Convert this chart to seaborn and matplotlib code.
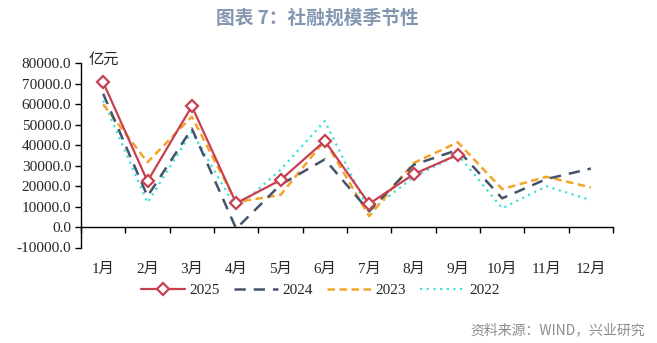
import matplotlib
matplotlib.use("Agg")
import matplotlib.pyplot as plt
import seaborn as sns
import numpy as np
import pandas as pd
from matplotlib.ticker import FixedLocator, FuncFormatter

months = ["1月", "2月", "3月", "4月", "5月", "6月", "7月", "8月", "9月", "10月", "11月", "12月"]
s2025 = [70600, 22300, 58900, 11600, 22900, 42000, 11300, 25700, 35300, np.nan, np.nan, np.nan]
s2024 = [65000, 15000, 48000, -800, 20600, 33000, 7700, 30300, 37600, 14000, 23400, 28500]
s2023 = [59800, 31600, 53800, 12200, 15600, 42200, 5300, 31200, 41300, 18500, 24500, 19300]
s2022 = [61700, 11900, 46500, 9100, 27900, 51700, 7600, 24300, 35300, 9100, 19900, 13100]
yticks = [-10000, 0, 10000, 20000, 30000, 40000, 50000, 60000, 70000, 80000]

sns.set_theme(style="white")
plt.rcParams["font.family"] = ["Liberation Serif", "Noto Sans CJK SC"]

fig = plt.figure(figsize=(6.57, 3.43), dpi=100)
ax = fig.add_axes([81 / 657, 1 - 247.5 / 343, (613 - 81) / 657, (247.5 - 63) / 343])

x = np.arange(len(months))
df = pd.DataFrame({"x": x, "2025": s2025, "2024": s2024, "2023": s2023, "2022": s2022})

sns.lineplot(data=df, x="x", y="2022", ax=ax, color="#3FE0D8", lw=1.6,
             linestyle=(0, (1, 2)), label="2022", zorder=2)
sns.lineplot(data=df, x="x", y="2023", ax=ax, color="#F5A42A", lw=1.8,
             linestyle=(0, (3, 1.8)), label="2023", zorder=3)
sns.lineplot(data=df, x="x", y="2024", ax=ax, color="#44546A", lw=1.8,
             linestyle=(0, (4.5, 3.2)), label="2024", zorder=4)
sns.lineplot(data=df, x="x", y="2025", ax=ax, color="#C8404F", lw=1.6,
             marker="D", markersize=6, markerfacecolor="white",
             markeredgecolor="#C8404F", markeredgewidth=1.6, label="2025", zorder=5)

ax.set_xlim(-0.5, 11.5)
ax.set_ylim(-10000, 80000)
ax.set_yticks(yticks)
ax.yaxis.set_major_formatter(FuncFormatter(lambda v, p: f"{v:.1f}"))
ax.tick_params(axis="y", direction="out", length=4, width=1, color="black",
               labelsize=11, pad=3, left=True)

ax.spines["bottom"].set_position(("data", 0))
for s in ["top", "right"]:
    ax.spines[s].set_visible(False)
for s in ["left", "bottom"]:
    ax.spines[s].set_color("black")
    ax.spines[s].set_linewidth(1)

ax.xaxis.set_major_locator(FixedLocator(x))
ax.set_xticklabels(months)
ax.xaxis.set_minor_locator(FixedLocator(np.arange(-0.5, 12, 1)))
ax.tick_params(axis="x", which="major", length=0, labelsize=11, pad=26, bottom=True)
ax.tick_params(axis="x", which="minor", direction="out", length=4, width=1,
               color="black", bottom=True)
ax.set_xlabel("")
ax.set_ylabel("")
ax.grid(False)

ax.text(0.015, 1.02, "亿元", transform=ax.transAxes, fontsize=11, va="center",
        ha="left", family=["Noto Sans CJK SC"])

h, l = ax.get_legend_handles_labels()
order = [l.index(k) for k in ["2025", "2024", "2023", "2022"]]
ax.legend([h[i] for i in order], [l[i] for i in order], loc="center",
          bbox_to_anchor=(320 / 657, 1 - 290 / 343), bbox_transform=fig.transFigure,
          ncol=4, frameon=False, fontsize=11, handlelength=2.9, columnspacing=0.9,
          handletextpad=0.3, borderpad=0.2)

fig.text(317 / 657, 1 - 18 / 343, "图表 7：社融规模季节性", ha="center", va="center",
         fontsize=13.5, fontweight="bold", color="#8497B0",
         family=["Noto Sans CJK SC", "DejaVu Sans"])
fig.text(645 / 657, 1 - 330 / 343, "资料来源：WIND，兴业研究", ha="right", va="center",
         fontsize=10, color="#8C8C8C", family=["Noto Sans CJK SC", "DejaVu Sans"])

fig.savefig("out.png", dpi=100)
